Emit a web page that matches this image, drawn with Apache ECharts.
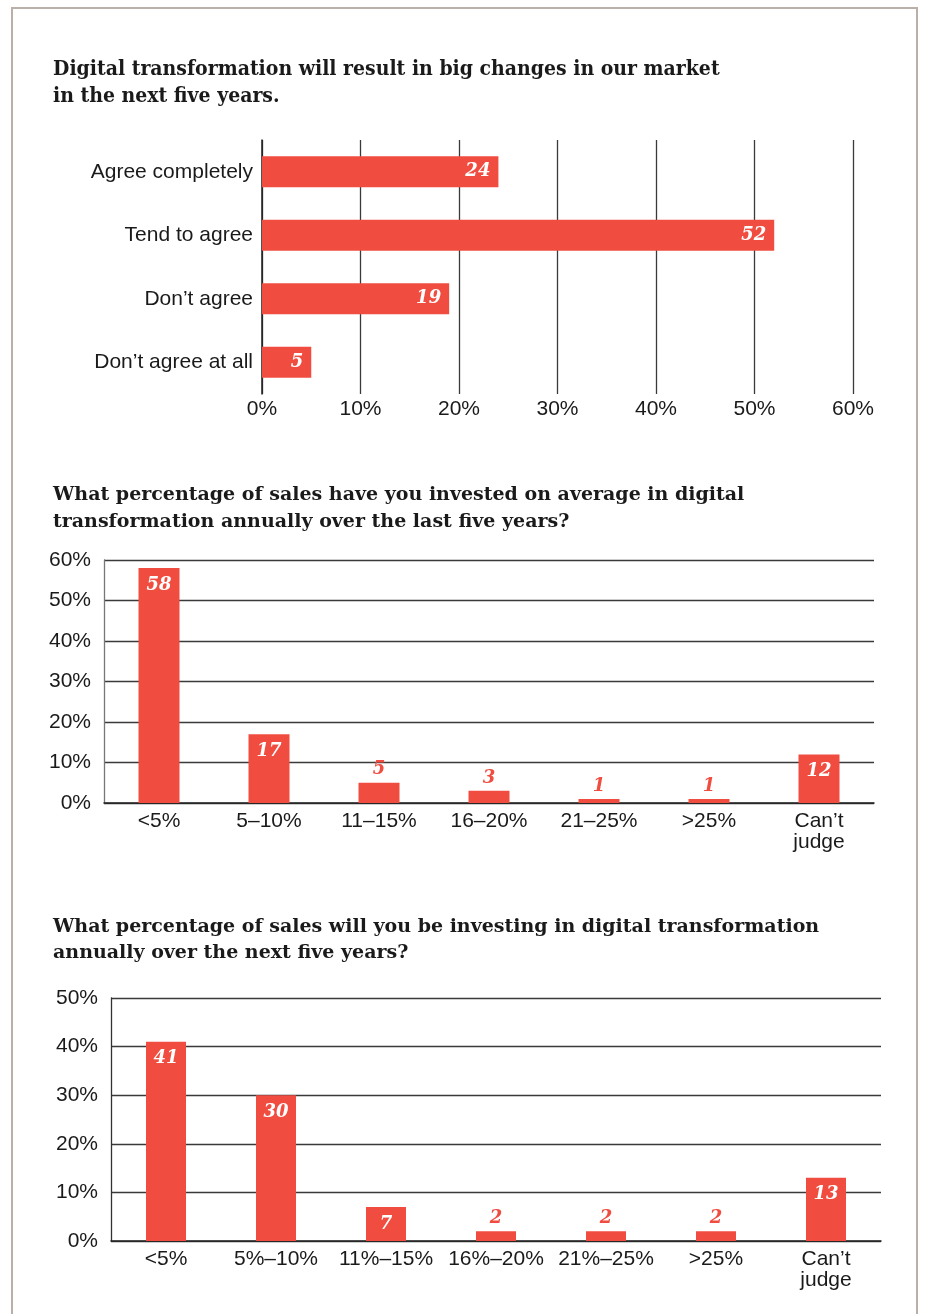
<!DOCTYPE html>
<html>
<head>
<meta charset="utf-8">
<script src="https://cdn.jsdelivr.net/npm/echarts@6/dist/echarts.min.js"></script>
<style>
  html, body { margin: 0; padding: 0; background: #ffffff; }
  #frame {
    position: absolute; left: 11px; top: 7px; width: 907px; height: 1320px;
    border: 2px solid #b9b0a9; border-bottom: none; box-sizing: border-box;
  }
  #chart { position: absolute; left: 0; top: 0; width: 925px; height: 1314px; }
</style>
</head>
<body>
<div id="frame"></div>
<div id="chart"></div>
<script>
// Survey 1: expectation of market change
const marketCategories = ['Agree completely', 'Tend to agree', 'Don\u2019t agree', 'Don\u2019t agree at all'];
const marketValues = [24, 52, 19, 5];

// Survey 2: share of sales invested over the last five years
const pastCategories = ['<5%', '5\u201310%', '11\u201315%', '16\u201320%', '21\u201325%', '>25%', 'Can\u2019t\njudge'];
const pastValues = [58, 17, 5, 3, 1, 1, 12];

// Survey 3: share of sales to be invested over the next five years
const nextCategories = ['<5%', '5%\u201310%', '11%\u201315%', '16%\u201320%', '21%\u201325%', '>25%', 'Can\u2019t\njudge'];
const nextValues = [41, 30, 7, 2, 2, 2, 13];

const titles = [
  'Digital transformation will result in big changes in our market\nin the next five years.',
  'What percentage of sales have you invested on average in digital\ntransformation annually over the last five years?',
  'What percentage of sales will you be investing in digital transformation\nannually over the next five years?'
];

const RED = '#f04d40';
const SANS = '"Liberation Sans", Arial, Helvetica, sans-serif';
const SERIF = '"DejaVu Serif", Georgia, serif';
const TEXT = '#1a1a1a';

const numberFont = {
  fontFamily: SERIF, fontStyle: 'italic', fontWeight: 'bold', fontSize: 18
};

// Large bars carry their value inside in white; short ones get it above in red
function columnData(values) {
  return values.map(v => {
    const inside = v >= 7;
    return {
      value: v,
      label: inside
        ? Object.assign({ position: 'insideTop', distance: 8, color: '#ffffff' }, numberFont)
        : Object.assign({ position: 'top', distance: 4, color: RED }, numberFont)
    };
  });
}

const chart = echarts.init(document.getElementById('chart'), null, { renderer: 'canvas' });

const valueAxisLabel = {
  formatter: '{value}%', fontFamily: SANS, fontSize: 21, color: TEXT
};
const gridLine = { show: true, lineStyle: { color: '#3a3a3a', width: 1.3 } };

chart.setOption({
  animation: false,
  title: [
    {
      text: titles[0], left: 53, top: 56, padding: 0,
      textStyle: { fontFamily: '"DejaVu Serif Condensed", "Liberation Serif", serif', fontWeight: 'bold', fontSize: 21, lineHeight: 27, color: TEXT }
    },
    {
      text: titles[1], left: 53, top: 482, padding: 0,
      textStyle: { fontFamily: SERIF, fontWeight: 'bold', fontSize: 19, lineHeight: 27, color: TEXT }
    },
    {
      text: titles[2], left: 53, top: 914, padding: 0,
      textStyle: { fontFamily: SERIF, fontWeight: 'bold', fontSize: 19, lineHeight: 26, color: TEXT }
    }
  ],
  grid: [
    { left: 262, right: 72, top: 140, height: 254 },
    { left: 104, right: 51, top: 560, height: 243 },
    { left: 111, right: 44, top: 998, height: 243 }
  ],
  xAxis: [
    {
      gridIndex: 0, type: 'value', min: 0, max: 60, interval: 10,
      axisLine: { show: false }, axisTick: { show: false },
      axisLabel: Object.assign({ margin: 5 }, valueAxisLabel),
      splitLine: gridLine
    },
    {
      gridIndex: 1, type: 'category', data: pastCategories,
      axisLine: { show: true, lineStyle: { color: '#222', width: 1.5 } },
      axisTick: { show: false },
      axisLabel: { fontFamily: SANS, fontSize: 21, color: TEXT, margin: 8, lineHeight: 21, interval: 0 }
    },
    {
      gridIndex: 2, type: 'category', data: nextCategories,
      axisLine: { show: true, lineStyle: { color: '#222', width: 1.5 } },
      axisTick: { show: false },
      axisLabel: { fontFamily: SANS, fontSize: 21, color: TEXT, margin: 8, lineHeight: 21, interval: 0 }
    }
  ],
  yAxis: [
    {
      gridIndex: 0, type: 'category', data: marketCategories, inverse: true,
      axisLine: { show: true, lineStyle: { color: '#222', width: 1.5 } },
      axisTick: { show: false },
      axisLabel: { fontFamily: SANS, fontSize: 21, color: TEXT, margin: 9, padding: [4, 0, 0, 0] }
    },
    {
      gridIndex: 1, type: 'value', min: 0, max: 60, interval: 10,
      axisLine: { show: true, lineStyle: { color: '#777', width: 1.3 } },
      axisTick: { show: false },
      axisLabel: Object.assign({ margin: 13 }, valueAxisLabel),
      splitLine: gridLine
    },
    {
      gridIndex: 2, type: 'value', min: 0, max: 50, interval: 10,
      axisLine: { show: true, lineStyle: { color: '#333', width: 1.3 } },
      axisTick: { show: false },
      axisLabel: Object.assign({ margin: 13 }, valueAxisLabel),
      splitLine: gridLine
    }
  ],
  series: [
    {
      type: 'bar', xAxisIndex: 0, yAxisIndex: 0, data: marketValues,
      barWidth: 31, itemStyle: { color: RED },
      label: Object.assign({ show: true, position: 'insideRight', distance: 8, color: '#ffffff', padding: [3, 0, 0, 0] }, numberFont)
    },
    {
      type: 'bar', xAxisIndex: 1, yAxisIndex: 1, data: columnData(pastValues),
      barWidth: 41, itemStyle: { color: RED },
      label: { show: true }
    },
    {
      type: 'bar', xAxisIndex: 2, yAxisIndex: 2, data: columnData(nextValues),
      barWidth: 40, itemStyle: { color: RED },
      label: { show: true }
    }
  ]
});
</script>
</body>
</html>
